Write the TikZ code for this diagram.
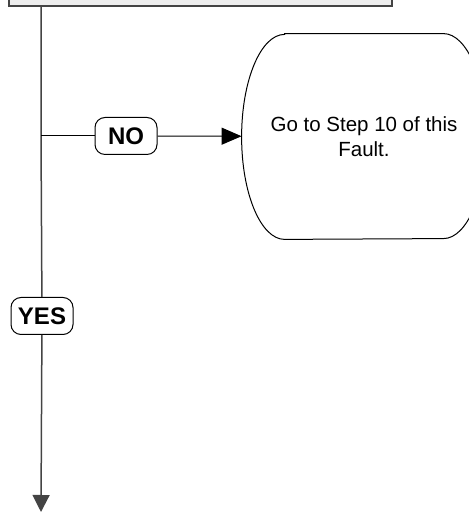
\documentclass[tikz,border=0pt]{standalone}
\usepackage{fontspec}
\setmainfont{Liberation Sans}
\usetikzlibrary{arrows.meta,calc}

\definecolor{boxgray}{HTML}{EEEEEE}
\definecolor{linegray}{HTML}{444444}

\begin{document}
\begin{tikzpicture}[x=0.5pt, y=0.5pt,
    stepbox/.style={rectangle,draw=linegray,fill=boxgray,line width=1pt,minimum width=191.5pt,minimum height=17pt},
    answer/.style={rectangle,draw,rounded corners=5pt,fill=white,line width=0.5pt,minimum width=31pt,minimum height=18.5pt,inner sep=0pt,font=\fontsize{12}{14}\selectfont\bfseries},
    terminal/.style={rectangle,minimum width=122pt,minimum height=102.5pt,align=center,font=\fontsize{10.25}{12.5}\selectfont},
    flow/.style={draw=linegray,line width=0.75pt},
    branch/.style={draw,line width=0.5pt,-{Triangle[length=10pt,width=8.5pt]}}]
    \useasboundingbox (0,0) rectangle (469,512);

    % Previous step (runs off the top)
    \node[stepbox] (prev) at (200.5,523) {};

    % Answers on the main line and the branch
    \node[answer] (yes) at (42,196) {YES};
    \node[answer] (no) at (126,376) {NO};
    \coordinate (split) at (41,376);
    \coordinate (next) at (41,0);

    % Terminal: go to step 10
    \node[terminal] (step10) at (364,375.5) {Go to Step 10 of this\\Fault.};
    \draw[line width=0.5pt]
        ($(step10.north west)+(43,0)$) -- ($(step10.north east)+(-43,0)$)
        arc[start angle=90,end angle=-90,x radius=43,y radius=102.5]
        -- ($(step10.south west)+(43,0)$)
        arc[start angle=270,end angle=90,x radius=43,y radius=102.5]
        -- cycle;

    % Main flow line
    \draw[flow] (prev.south -| split) -- (split) -- (yes);
    \draw[flow,-{Triangle[length=8.5pt,width=8.5pt]}] (yes) -- (next);

    % NO branch
    \draw[line width=0.5pt] (split) -- (no);
    \draw[branch] (no) -- (step10);
\end{tikzpicture}
\end{document}
